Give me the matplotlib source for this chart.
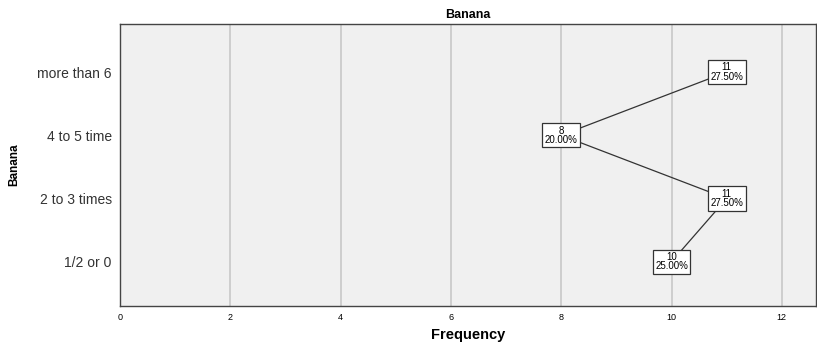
import numpy as np
import matplotlib.pyplot as plt

plt.rcParams['font.family'] = ['Liberation Sans', 'DejaVu Sans']

# categories bottom to top, counts
categories = ['1/2 or 0', '2 to 3 times', '4 to 5 time', 'more than 6']
freq = [10, 11, 8, 11]
pct = [25.00, 27.50, 20.00, 27.50]
xticks = [0, 2, 4, 6, 8, 10, 12]

fig = plt.figure(figsize=(8.17, 3.43), dpi=100)
ax = fig.add_axes([120/817, 37/343, 696/817, 282/343])
ax.set_facecolor('#f0f0f0')

y = np.arange(len(categories))
ax.plot(freq, y, color='#333333', lw=0.9, zorder=2)
for f, yy, p in zip(freq, y, pct):
    ax.text(f, yy, '%d\n%.2f%%' % (f, p), ha='center', va='center',
            fontsize=7, linespacing=0.9, zorder=3,
            bbox=dict(boxstyle='square,pad=0.25', fc='white', ec='#333333', lw=0.9))

ax.set_xlim(0, 12.62)
ax.set_ylim(-0.7, 3.76)
ax.set_xticks(xticks)
ax.set_xticklabels([str(t) for t in xticks], fontsize=6.5)
ax.set_yticks(y)
ax.set_yticklabels(categories, fontsize=10, color='#333333')
ax.tick_params(length=0, pad=6)
ax.tick_params(axis='x', pad=5)
ax.grid(axis='x', color='#c8c8c8', lw=1.2)
ax.set_axisbelow(True)
for s in ax.spines.values():
    s.set_color('#444444')
    s.set_linewidth(1)

ax.set_title('Banana', fontsize=9, fontweight='bold', pad=4)
ax.set_xlabel('Frequency', fontsize=10.5, fontweight='bold', labelpad=4)
ax.set_ylabel('Banana', fontsize=8.5, fontweight='bold')
ax.yaxis.set_label_coords(-0.143, 0.5)

fig.savefig('out.png', dpi=100)
